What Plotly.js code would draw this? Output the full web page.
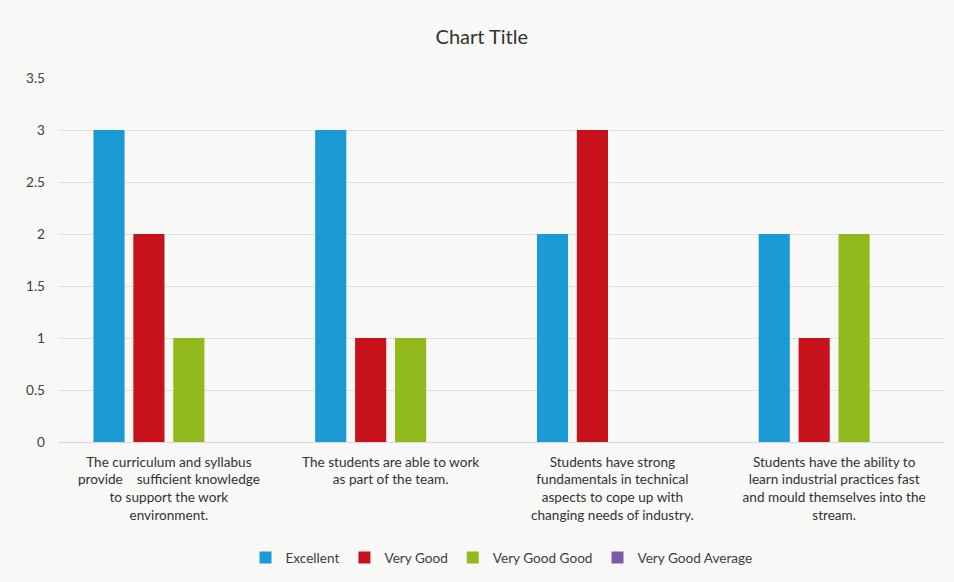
<!DOCTYPE html>
<html>
<head>
<meta charset="utf-8">
<script src="https://cdn.plot.ly/plotly-3.0.1.min.js"></script>
<style>html,body{margin:0;padding:0;background:#f8f8f6;}#chart{width:954px;height:582px;}</style>
</head>
<body>
<div id="chart"></div>
<script>
const categories = [
  "The curriculum and syllabus<br>provide    sufficient knowledge<br>to support the work<br>environment.",
  "The students are able to work<br>as part of the team.",
  "Students have strong<br>fundamentals in technical<br>aspects to cope up with<br>changing needs of industry.",
  "Students have the ability to<br>learn industrial practices fast<br>and mould themselves into the<br>stream."
];
const seriesNames = ["Excellent", "Very Good", "Very Good Good", "Very Good Average"];
const excellent = [3, 3, 2, 2];
const veryGood = [2, 1, 3, 1];
const veryGoodGood = [1, 1, 0, 2];
const veryGoodAverage = [0, 0, 0, 0];
const colors = ["#1b9ad6", "#c8121b", "#93ba1c", "#7b5aa6"];

const values = [excellent, veryGood, veryGoodGood, veryGoodAverage];
const traces = values.map((v, i) => ({
  type: "bar",
  name: seriesNames[i],
  x: categories,
  y: v,
  marker: {color: colors[i]},
  hoverinfo: "none"
}));

const layout = {
  width: 954, height: 582,
  paper_bgcolor: "#f8f8f6",
  plot_bgcolor: "#f8f8f6",
  font: {family: "Lato, 'Noto Sans', sans-serif", color: "#404040", size: 13},
  title: {text: "Chart Title", x: 0.505, xanchor: "center", y: 0.937, yanchor: "middle",
          font: {size: 20, color: "#333333", family: "Lato, 'Noto Sans', sans-serif"}},
  margin: {l: 58, r: 9, t: 78, b: 140},
  barmode: "group",
  bargap: 0.28,
  bargroupgap: 0.22,
  xaxis: {
    showgrid: false, showline: false, ticks: "", zeroline: false, automargin: false,
    tickfont: {size: 13.6, color: "#333333"}, tickangle: 0,
    ticklabelstandoff: 10
  },
  yaxis: {
    range: [0, 3.5], dtick: 0.5, automargin: false,
    showgrid: true, gridcolor: "#e2e2e2", gridwidth: 1,
    zeroline: true, zerolinecolor: "#d8d8d8",
    showline: false, ticks: "", ticklen: 0,
    ticklabelstandoff: 12,
    tickfont: {size: 13.6, color: "#404040"}
  },
  legend: {
    orientation: "h", x: 0.5, xanchor: "center", y: -0.275, yanchor: "top",
    font: {size: 13.6, color: "#404040"}, traceorder: "normal", itemwidth: 30
  },
  showlegend: true
};

Plotly.newPlot("chart", traces, layout, {displayModeBar: false, staticPlot: true});
</script>
</body>
</html>
